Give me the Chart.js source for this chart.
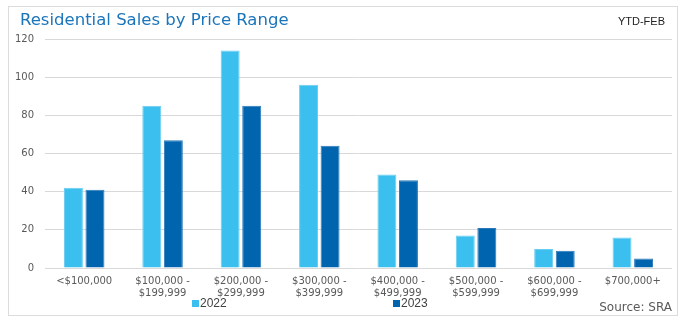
<!DOCTYPE html>
<html>
<head>
<meta charset="utf-8">
<script src="https://cdn.jsdelivr.net/npm/chart.js@4/dist/chart.umd.min.js"></script>
<style>
  html, body { margin: 0; padding: 0; background: #ffffff; }
  canvas { display: block; }
</style>
</head>
<body>
<canvas id="c" width="687" height="323"></canvas>
<script>
// Price ranges (two-line axis labels)
const priceRanges = [
  ['<$100,000'],
  ['$100,000 -', '$199,999'],
  ['$200,000 -', '$299,999'],
  ['$300,000 -', '$399,999'],
  ['$400,000 -', '$499,999'],
  ['$500,000 -', '$599,999'],
  ['$600,000 -', '$699,999'],
  ['$700,000+']
];
const sales2022 = [42, 85, 114, 96, 49, 17, 10, 16];
const sales2023 = [41, 67, 85, 64, 46, 21, 9, 5];
const yTicks = [0, 20, 40, 60, 80, 100, 120];

const titleText = 'Residential Sales by Price Range';
const periodText = 'YTD-FEB';
const sourceText = 'Source: SRA';

// Frame, heading, period tag, legend and source note
const decorations = {
  id: 'decorations',
  beforeDraw(chart) {
    const ctx = chart.ctx;
    ctx.save();
    ctx.fillStyle = '#ffffff';
    ctx.fillRect(0, 0, chart.width, chart.height);
    ctx.strokeStyle = '#dcdcdc';
    ctx.lineWidth = 1;
    ctx.strokeRect(8.5, 6.5, 669, 309);
    ctx.restore();
  },
  afterDraw(chart) {
    const ctx = chart.ctx;
    ctx.save();
    ctx.textBaseline = 'middle';
    ctx.fillStyle = '#1b75bb';
    ctx.font = '16.5px "DejaVu Sans"';
    ctx.textAlign = 'left';
    ctx.fillText(titleText, 20, 21);

    ctx.fillStyle = '#222222';
    ctx.font = '11px "Liberation Sans"';
    ctx.textAlign = 'right';
    ctx.fillText(periodText, 665, 22);

    ctx.fillStyle = '#595959';
    ctx.font = '12px "DejaVu Sans"';
    ctx.textAlign = 'right';
    ctx.fillText(sourceText, 672, 308);

    // legend entries
    const legendX = [192, 393];
    ctx.font = '12px "Liberation Sans"';
    ctx.textAlign = 'left';
    chart.data.datasets.forEach((ds, i) => {
      const x = legendX[i];
      ctx.fillStyle = ds.backgroundColor;
      ctx.fillRect(x, 300, 7, 7);
      ctx.fillStyle = '#404040';
      ctx.fillText(ds.label, x + 8, 304);
    });
    ctx.restore();
  }
};

new Chart(document.getElementById('c'), {
  type: 'bar',
  data: {
    labels: priceRanges,
    datasets: [
      {
        label: '2022',
        data: sales2022,
        backgroundColor: '#3bbfef',
        borderColor: '#6ccdf2',
        borderWidth: 1,
        barPercentage: 0.88,
        categoryPercentage: 0.55
      },
      {
        label: '2023',
        data: sales2023,
        backgroundColor: '#0064ae',
        borderColor: '#2a7abb',
        borderWidth: 1,
        barPercentage: 0.88,
        categoryPercentage: 0.55
      }
    ]
  },
  options: {
    responsive: false,
    animation: false,
    layout: { padding: { top: 39, right: 15, left: 0, bottom: 0 } },
    plugins: {
      legend: { display: false },
      title: { display: false },
      tooltip: { enabled: false }
    },
    scales: {
      x: {
        grid: { display: false, drawTicks: false },
        border: { display: false },
        ticks: {
          color: '#595959',
          font: { family: '"DejaVu Sans"', size: 10, lineHeight: 1.15 },
          padding: 8,
          maxRotation: 0,
          autoSkip: false
        },
        afterFit(scale) { scale.height = 55; }
      },
      y: {
        min: 0,
        max: 120,
        afterBuildTicks(scale) { scale.ticks = yTicks.map(v => ({ value: v })); },
        grid: { color: '#d9d9d9', lineWidth: 1, drawTicks: false },
        border: { display: false },
        ticks: {
          color: '#595959',
          font: { family: '"DejaVu Sans"', size: 10 },
          padding: 11
        },
        afterFit(scale) { scale.width = 45; }
      }
    }
  },
  plugins: [decorations]
});
</script>
</body>
</html>
